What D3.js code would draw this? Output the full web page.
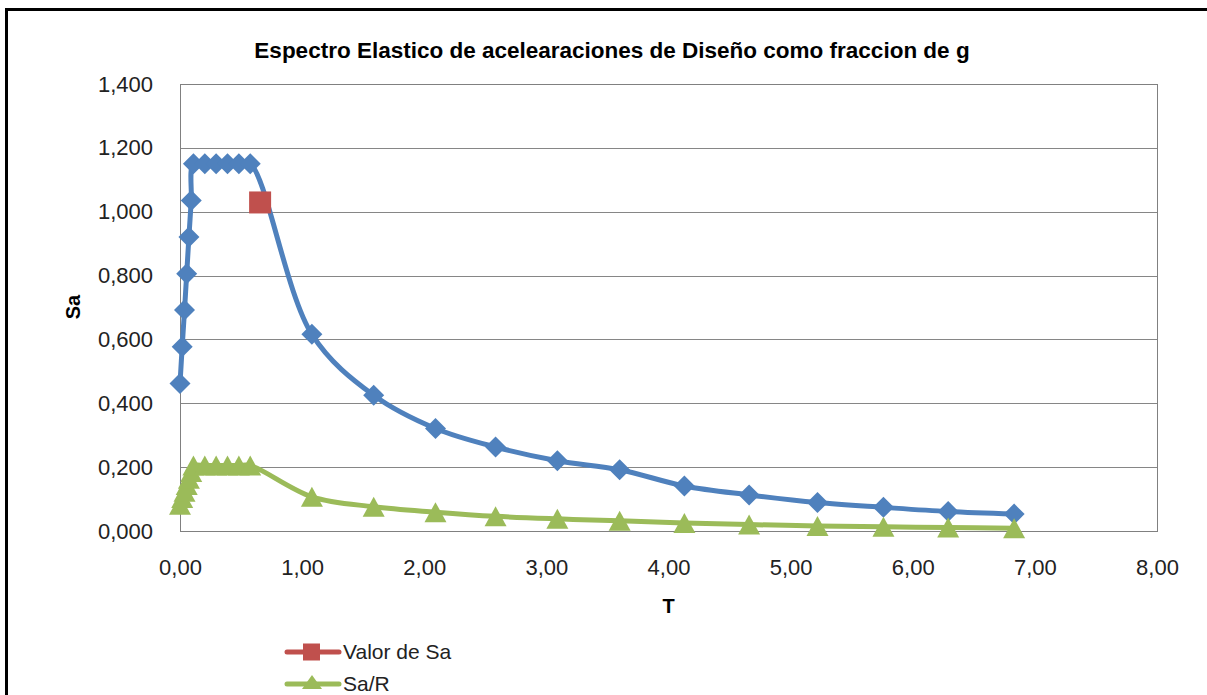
<!DOCTYPE html>
<html>
<head>
<meta charset="utf-8">
<script src="https://cdn.jsdelivr.net/npm/d3@7"></script>
<style>
  html, body { margin: 0; padding: 0; background: #fff; }
  svg { display: block; }
</style>
</head>
<body>
<svg id="chart" width="1207" height="695"></svg>
<script>
// Periodo T (s) y ordenadas espectrales
const periodo = [0, 0.018, 0.037, 0.055, 0.073, 0.092, 0.110,
                 0.203, 0.296, 0.389, 0.482, 0.575,
                 1.080, 1.586, 2.092, 2.584, 3.090, 3.600,
                 4.130, 4.660, 5.220, 5.760, 6.290, 6.830];
const sa = [0.462, 0.577, 0.692, 0.806, 0.921, 1.035, 1.150,
            1.150, 1.150, 1.150, 1.150, 1.150,
            0.616, 0.425, 0.321, 0.263, 0.220, 0.192,
            0.141, 0.113, 0.089, 0.074, 0.061, 0.053];
const saR = [0.082, 0.103, 0.123, 0.144, 0.164, 0.185, 0.205,
             0.205, 0.205, 0.205, 0.205, 0.205,
             0.107, 0.076, 0.059, 0.046, 0.038, 0.032,
             0.025, 0.020, 0.016, 0.013, 0.011, 0.009];
// Punto de diseño
const valorT = [0.656];
const valorSa = [1.029];

const xTicks = [0, 1, 2, 3, 4, 5, 6, 7, 8];
const yTicks = [0, 0.2, 0.4, 0.6, 0.8, 1.0, 1.2, 1.4];

const titulo = "Espectro Elastico de acelearaciones de Diseño como fraccion de g";
const legendItems = ["Valor de Sa", "Sa/R"];

const colors = { sa: "#4F81BD", valor: "#C0504D", saR: "#9BBB59" };

const svg = d3.select("#chart");

// Marco exterior del gráfico
svg.append("path")
  .attr("d", "M6.5,1000 L6.5,9.5 L1210,9.5")
  .attr("fill", "none").attr("stroke", "#000").attr("stroke-width", 3);

const x = d3.scaleLinear().domain([0, 8]).range([180, 1157]);
const y = d3.scaleLinear().domain([0, 1.4]).range([531, 84]);

const fmtY = d => d3.format(".3f")(d).replace(".", ",");
const fmtX = d => d3.format(".2f")(d).replace(".", ",");

// Líneas de división horizontales
svg.append("g").selectAll("line").data(yTicks).join("line")
  .attr("x1", x(0)).attr("x2", x(8))
  .attr("y1", d => Math.round(y(d)) + 0.5).attr("y2", d => Math.round(y(d)) + 0.5)
  .attr("stroke", "#868686").attr("stroke-width", 1);

// Recuadro del área de trazado
svg.append("rect")
  .attr("x", x(0) + 0.5).attr("y", Math.round(y(1.4)) + 0.5)
  .attr("width", x(8) - x(0)).attr("height", Math.round(y(0)) - Math.round(y(1.4)))
  .attr("fill", "none").attr("stroke", "#808080").attr("stroke-width", 1);

// Ejes
const tickFont = "'Liberation Sans', Arial, sans-serif";
const yAxis = svg.append("g").attr("transform", `translate(${x(0)},0)`)
  .call(d3.axisLeft(y).tickValues(yTicks).tickFormat(fmtY).tickSize(0).tickPadding(27));
const xAxis = svg.append("g").attr("transform", `translate(0,${y(0)})`)
  .call(d3.axisBottom(x).tickValues(xTicks).tickFormat(fmtX).tickSize(0).tickPadding(28));
[yAxis, xAxis].forEach(a => {
  a.select(".domain").remove();
  a.selectAll("text").attr("font-family", tickFont).attr("font-size", 22).attr("fill", "#222");
});

// Títulos
svg.append("text")
  .attr("x", 612).attr("y", 58).attr("text-anchor", "middle")
  .attr("font-family", tickFont).attr("font-weight", "bold").attr("font-size", 22.5)
  .attr("fill", "#000").text(titulo);
svg.append("text")
  .attr("transform", "translate(80,307) rotate(-90)").attr("text-anchor", "middle")
  .attr("font-family", tickFont).attr("font-weight", "bold").attr("font-size", 20)
  .attr("fill", "#000").text("Sa");
svg.append("text")
  .attr("x", x(4)).attr("y", 613).attr("text-anchor", "middle")
  .attr("font-family", tickFont).attr("font-weight", "bold").attr("font-size", 20)
  .attr("fill", "#000").text("T");

// Series
const curve = d3.curveCatmullRom.alpha(0.5);
const saPts = periodo.map((t, i) => [t, sa[i]]);
const saRPts = periodo.map((t, i) => [t, saR[i]]);
const line = d3.line().x(d => x(d[0])).y(d => y(d[1])).curve(curve);

const diamond = "M0,-10.5 L10.5,0 L0,10.5 L-10.5,0 Z";
const triangle = "M0,-10 L11,10 L-11,10 Z";

svg.append("path").attr("d", line(saPts))
  .attr("fill", "none").attr("stroke", colors.sa).attr("stroke-width", 5)
  .attr("stroke-linejoin", "round").attr("stroke-linecap", "round");
svg.append("g").selectAll("path").data(saPts).join("path")
  .attr("d", diamond)
  .attr("transform", d => `translate(${x(d[0])},${y(d[1])})`)
  .attr("fill", colors.sa);

// Valor de Sa
svg.append("g").selectAll("rect").data(valorT.map((t, i) => [t, valorSa[i]])).join("rect")
  .attr("x", d => x(d[0]) - 11).attr("y", d => y(d[1]) - 11)
  .attr("width", 22).attr("height", 22)
  .attr("fill", colors.valor);

svg.append("path").attr("d", line(saRPts))
  .attr("fill", "none").attr("stroke", colors.saR).attr("stroke-width", 5)
  .attr("stroke-linejoin", "round").attr("stroke-linecap", "round");
svg.append("g").selectAll("path").data(saRPts).join("path")
  .attr("d", triangle)
  .attr("transform", d => `translate(${x(d[0])},${y(d[1])})`)
  .attr("fill", colors.saR);

// Leyenda
const legend = svg.append("g");
const legendY = [652, 684];
const legendColors = [colors.valor, colors.saR];
legendItems.forEach((name, i) => {
  const g = legend.append("g").attr("transform", `translate(0,${legendY[i]})`);
  g.append("line").attr("x1", 287).attr("x2", 339).attr("y1", 0).attr("y2", 0)
    .attr("stroke", legendColors[i]).attr("stroke-width", 5).attr("stroke-linecap", "round");
  if (i === 0) {
    g.append("rect").attr("x", 303).attr("y", -8.5).attr("width", 17).attr("height", 17)
      .attr("fill", legendColors[i]);
  } else {
    g.append("path").attr("d", "M312,-9 L322,5 L302,5 Z").attr("fill", legendColors[i]);
  }
  g.append("text").attr("x", 343).attr("y", 0).attr("dy", "0.35em")
    .attr("font-family", tickFont).attr("font-size", 21).attr("fill", "#222").text(name);
});
</script>
</body>
</html>
